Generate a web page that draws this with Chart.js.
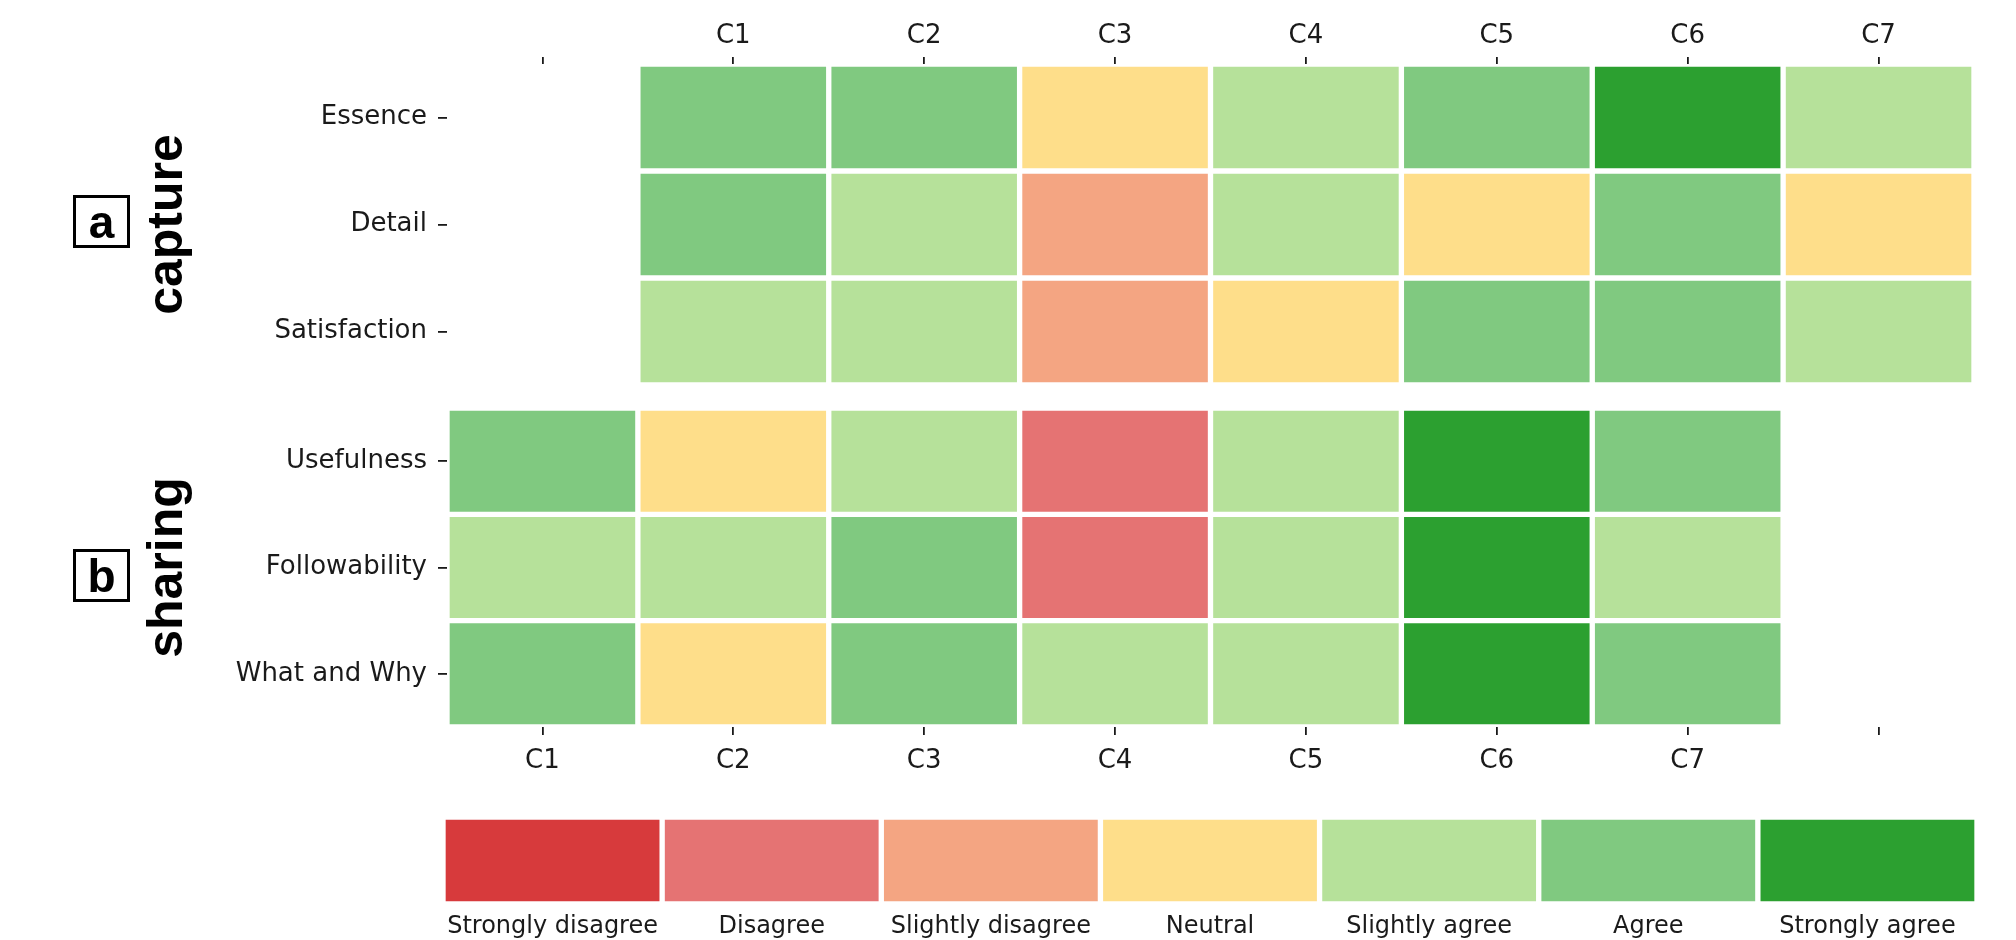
<!DOCTYPE html>
<html>
<head>
<meta charset="utf-8">
<script src="https://cdn.jsdelivr.net/npm/chart.js@4.4.1/dist/chart.umd.min.js"></script>
<style>
	body { margin: 0; background: #fff; }
	#page { position: relative; width: 2016px; height: 940px; }
	.wrap { position: absolute; left: 0; width: 2016px; }
	.tag {
		position: absolute;
		left: 73px;
		width: 57px;
		height: 53px;
		box-sizing: border-box;
		border: 3px solid #000;
		font-family: "Liberation Sans", Arial, sans-serif;
		font-weight: bold;
		font-size: 46px;
		display: flex;
		align-items: center;
		justify-content: center;
		color: #000;
	}
</style>
</head>
<body>
<div id="page">
	<div class="wrap" style="top:0;height:400px"><canvas id="captureChart"></canvas></div>
	<div class="wrap" style="top:390px;height:400px"><canvas id="sharingChart"></canvas></div>
	<div class="wrap" style="top:790px;height:150px"><canvas id="scaleChart"></canvas></div>
	<div class="tag" style="top:195px">a</div>
	<div class="tag" style="top:549px">b</div>
</div>
<script>
// answer scale
const scaleLabels = ["Strongly disagree", "Disagree", "Slightly disagree", "Neutral", "Slightly agree", "Agree", "Strongly agree"];
const scaleColors = ["#d73a3c", "#e57373", "#f4a582", "#fede8a", "#b6e19a", "#80c980", "#2ca030"];

// rows and column tick labels
const captureRows = ["Essence", "Detail", "Satisfaction"];
const sharingRows = ["Usefulness", "Followability", "What and Why"];
const captureCols = ["", "C1", "C2", "C3", "C4", "C5", "C6", "C7"];
const sharingCols = ["C1", "C2", "C3", "C4", "C5", "C6", "C7", ""];

// ratings C1..C7 (index into scaleLabels)
const essence = [5, 5, 3, 4, 5, 6, 4];
const detail = [5, 4, 2, 4, 3, 5, 3];
const satisfaction = [4, 4, 2, 3, 5, 5, 4];
const usefulness = [5, 3, 4, 1, 4, 6, 5];
const followability = [4, 4, 5, 1, 4, 6, 4];
const whatAndWhy = [5, 3, 5, 4, 4, 6, 5];

const textColor = "#1a1a1a";
const tickFont = { family: "'DejaVu Sans', sans-serif", size: 26 };

function heatmapDatasets(rows, firstCol) {
	const sets = [];
	for (let c = 0; c < rows[0].length; c++) {
		sets.push({
			data: rows.map(() => [firstCol + c, firstCol + c + 1]),
			backgroundColor: rows.map((r) => scaleColors[r[c]]),
			borderColor: "#fff",
			borderWidth: 3,
			borderSkipped: false,
			grouped: false,
			barPercentage: 1,
			categoryPercentage: 1,
		});
	}
	return sets;
}

function makeHeatmap(id, rowLabels, rows, colLabels, firstCol, xPos, title, padTop, padBottom, xHeight, xTick, xPad) {
	new Chart(document.getElementById(id), {
		type: "bar",
		data: {
			labels: rowLabels,
			datasets: heatmapDatasets(rows, firstCol),
		},
		options: {
			indexAxis: "y",
			responsive: true,
			maintainAspectRatio: false,
			animation: false,
			layout: { padding: { left: 0, right: 42, top: padTop, bottom: padBottom } },
			plugins: { legend: { display: false }, tooltip: { enabled: false } },
			scales: {
				x: {
					type: "linear",
					position: xPos,
					min: 0,
					max: colLabels.length,
					afterBuildTicks: (s) => {
						s.ticks = colLabels.map((_, i) => ({ value: i + 0.5 }));
					},
					afterFit: (s) => {
						s.height = xHeight;
						s.paddingLeft = 0;
						s.paddingRight = 0;
					},
					ticks: {
						callback: (v, i) => colLabels[i],
						autoSkip: false,
						maxRotation: 0,
						padding: xPad,
						font: tickFont,
						color: textColor,
					},
					grid: { drawOnChartArea: false, tickLength: xTick, color: textColor, lineWidth: 1.8 },
					border: { display: false },
				},
				y: {
					type: "category",
					offset: true,
					afterFit: (s) => {
						s.width = 447;
						s.paddingTop = 0;
						s.paddingBottom = 0;
					},
					ticks: { padding: 11, font: tickFont, color: textColor },
					grid: { offset: false, drawOnChartArea: false, tickLength: 9, color: textColor, lineWidth: 1.8 },
					border: { display: false },
					title: {
						display: true,
						text: title,
						color: "#000",
						font: { family: "'Liberation Sans', Arial, sans-serif", size: 50, weight: "bold" },
						padding: { top: 138, bottom: 0 },
					},
				},
			},
		},
	});
}

makeHeatmap("captureChart", captureRows, [essence, detail, satisfaction], captureCols, 1, "top", "capture", 0, 15, 64, 7, 5);
makeHeatmap("sharingChart", sharingRows, [usefulness, followability, whatAndWhy], sharingCols, 0, "bottom", "sharing", 18, 0, 63, 8, 11);

// colour scale legend
new Chart(document.getElementById("scaleChart"), {
	type: "bar",
	data: {
		labels: scaleLabels,
		datasets: [{
			data: scaleLabels.map(() => 1),
			backgroundColor: scaleColors,
			borderColor: "#fff",
			borderWidth: 3,
			borderSkipped: false,
			barPercentage: 1,
			categoryPercentage: 1,
		}],
	},
	options: {
		responsive: true,
		maintainAspectRatio: false,
		animation: false,
		layout: { padding: { left: 443, right: 39, top: 27, bottom: 0 } },
		plugins: { legend: { display: false }, tooltip: { enabled: false } },
		scales: {
			x: {
				afterFit: (s) => {
					s.height = 36;
					s.paddingLeft = 0;
					s.paddingRight = 0;
				},
				ticks: { padding: 0, maxRotation: 0, autoSkip: false, font: { family: "'DejaVu Sans', sans-serif", size: 24 }, color: textColor },
				grid: { display: false },
				border: { display: false },
			},
			y: { display: false, min: 0, max: 1 },
		},
	},
});
</script>
</body>
</html>
